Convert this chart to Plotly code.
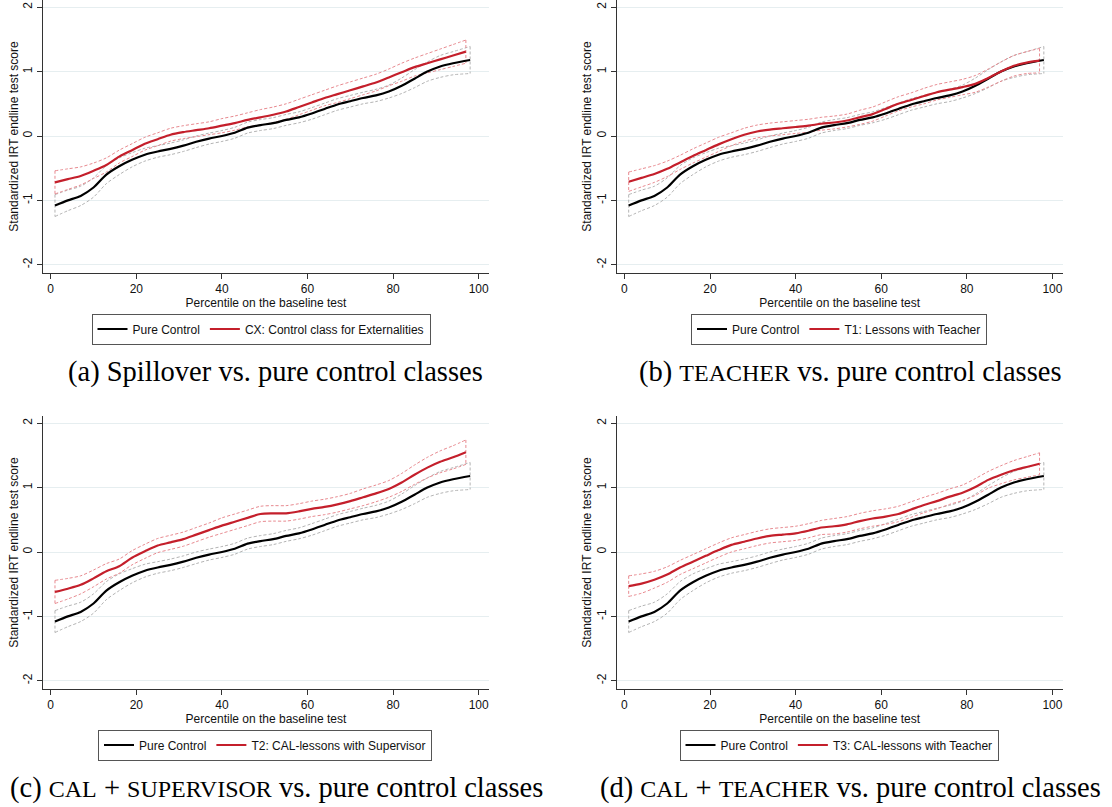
import plotly.graph_objects as go

# ---------------- data ----------------
x_ctrl = [1, 4, 7, 10, 13, 16, 19, 22, 25, 28, 31, 34, 37, 40, 43, 46, 49, 52, 55,
          58, 61, 64, 67, 70, 73, 76, 79, 82, 85, 88, 91, 94, 98]
x_trt = [1, 4, 7, 10, 13, 16, 19, 22, 25, 28, 31, 34, 37, 40, 43, 46, 49, 52, 55,
         58, 61, 64, 67, 70, 73, 76, 79, 82, 85, 88, 91, 94, 97]

ctrl_mean = [-1.08, -1.00, -0.93, -0.80, -0.60, -0.47, -0.37, -0.29, -0.24, -0.20, -0.15,
             -0.09, -0.04, 0.00, 0.05, 0.13, 0.17, 0.20, 0.25, 0.29, 0.35, 0.42, 0.49,
             0.54, 0.59, 0.63, 0.69, 0.78, 0.89, 1.00, 1.08, 1.13, 1.18]
ctrl_half = [0.17, 0.16, 0.15, 0.15, 0.14, 0.13, 0.11, 0.10, 0.09, 0.09, 0.09, 0.09, 0.085,
             0.085, 0.085, 0.085, 0.085, 0.085, 0.085, 0.085, 0.09, 0.09, 0.09, 0.09, 0.09,
             0.095, 0.10, 0.12, 0.14, 0.15, 0.17, 0.18, 0.21]

cx_mean = [-0.72, -0.67, -0.62, -0.54, -0.45, -0.32, -0.22, -0.12, -0.05, 0.02, 0.06, 0.09,
           0.12, 0.16, 0.20, 0.25, 0.29, 0.33, 0.38, 0.45, 0.52, 0.59, 0.65, 0.71, 0.77,
           0.83, 0.91, 0.99, 1.07, 1.13, 1.19, 1.25, 1.31]
cx_half = [0.18, 0.16, 0.14, 0.12, 0.11, 0.10, 0.10, 0.10, 0.10, 0.10, 0.10, 0.10, 0.10,
           0.11, 0.11, 0.11, 0.12, 0.12, 0.12, 0.12, 0.12, 0.12, 0.13, 0.13, 0.13, 0.13,
           0.13, 0.14, 0.14, 0.15, 0.16, 0.17, 0.18]

t1_mean = [-0.71, -0.65, -0.59, -0.51, -0.41, -0.31, -0.22, -0.13, -0.05, 0.02, 0.07, 0.10,
           0.12, 0.14, 0.16, 0.19, 0.21, 0.24, 0.29, 0.34, 0.42, 0.50, 0.56, 0.62, 0.68,
           0.72, 0.76, 0.81, 0.90, 1.00, 1.09, 1.14, 1.17]
t1_half = [0.15, 0.14, 0.13, 0.12, 0.11, 0.11, 0.11, 0.11, 0.10, 0.10, 0.10, 0.10, 0.10,
           0.10, 0.10, 0.10, 0.10, 0.10, 0.11, 0.11, 0.11, 0.11, 0.11, 0.12, 0.12, 0.12,
           0.12, 0.13, 0.14, 0.15, 0.16, 0.17, 0.19]

t2_mean = [-0.62, -0.57, -0.51, -0.41, -0.30, -0.22, -0.09, 0.01, 0.10, 0.15, 0.20, 0.27,
           0.34, 0.41, 0.47, 0.53, 0.59, 0.60, 0.60, 0.63, 0.67, 0.70, 0.74, 0.79, 0.85,
           0.91, 0.98, 1.08, 1.20, 1.31, 1.40, 1.47, 1.55]
t2_half = [0.18, 0.16, 0.14, 0.13, 0.12, 0.11, 0.11, 0.11, 0.11, 0.11, 0.11, 0.11, 0.11,
           0.12, 0.12, 0.12, 0.12, 0.12, 0.12, 0.12, 0.12, 0.12, 0.12, 0.12, 0.13, 0.13,
           0.13, 0.14, 0.15, 0.16, 0.17, 0.18, 0.19]

t3_mean = [-0.53, -0.49, -0.43, -0.35, -0.24, -0.15, -0.06, 0.03, 0.11, 0.16, 0.21, 0.25,
           0.27, 0.29, 0.33, 0.38, 0.40, 0.43, 0.48, 0.52, 0.55, 0.59, 0.66, 0.73, 0.79,
           0.86, 0.92, 1.01, 1.12, 1.20, 1.27, 1.32, 1.37]
t3_half = [0.16, 0.15, 0.13, 0.12, 0.11, 0.11, 0.11, 0.11, 0.11, 0.11, 0.11, 0.11, 0.11,
           0.11, 0.11, 0.11, 0.12, 0.12, 0.12, 0.12, 0.12, 0.12, 0.12, 0.12, 0.12, 0.12,
           0.12, 0.13, 0.13, 0.14, 0.15, 0.16, 0.17]

ctrl_name = "Pure Control"
trt_names = ["CX: Control class for Externalities", "T1: Lessons with Teacher",
             "T2: CAL-lessons with Supervisor", "T3: CAL-lessons with Teacher"]
x_ticks = [0, 20, 40, 60, 80, 100]
y_ticks = [-2, -1, 0, 1, 2]
y_ticklabels = ["-2", "-1", "0", "1", "2"]
x_title = "Percentile on the baseline test"
y_title = "Standardized IRT endline test score"

SC = "<span style='font-size:24px'>{}</span>"
captions = [
    "(a) Spillover vs. pure control classes",
    "(b) " + SC.format("TEACHER") + " vs. pure control classes",
    "(c) " + SC.format("CAL") + " + " + SC.format("SUPERVISOR") + " vs. pure control classes",
    "(d) " + SC.format("CAL") + " + " + SC.format("TEACHER") + " vs. pure control classes",
]
trt_means = [cx_mean, t1_mean, t2_mean, t3_mean]
trt_halfs = [cx_half, t1_half, t2_half, t3_half]

# ---------------- styling / layout ----------------
W, H = 1112, 807
RED = "#c41f2b"
RED_CI = "#e88a90"
GRAY_CI = "#b4b4b4"
GRID = "#e6eef0"
SANS = "Liberation Sans"

# panel pixel boxes: (left, right, top, bottom)
boxes = [(43, 489, 0, 273), (616.7, 1062.7, 0, 273),
         (43, 489, 416, 689), (616.7, 1062.7, 416, 689)]
legend_pos = [(261, 329), (839, 329), (265, 745), (839, 745)]
caption_pos = [(275, 372), (850, 372), (276, 788), (850, 788)]

fig = go.Figure()


def band_trace(xs, mean, half, color, xa, ya):
    up = [m + h for m, h in zip(mean, half)]
    lo = [m - h for m, h in zip(mean, half)]
    bx = list(xs) + [None] + list(xs) + [None, xs[0], xs[0], None, xs[-1], xs[-1]]
    by = up + [None] + lo + [None, up[0], lo[0], None, up[-1], lo[-1]]
    return go.Scatter(x=bx, y=by, mode="lines", xaxis=xa, yaxis=ya, showlegend=False,
                      hoverinfo="skip", connectgaps=False,
                      line=dict(color=color, width=1, dash="3px,2px", shape="spline",
                                smoothing=0.8))


for i in range(4):
    xa = "x" if i == 0 else f"x{i+1}"
    ya = "y" if i == 0 else f"y{i+1}"
    lg = "legend" if i == 0 else f"legend{i+1}"
    fig.add_trace(band_trace(x_ctrl, ctrl_mean, ctrl_half, GRAY_CI, xa, ya))
    fig.add_trace(band_trace(x_trt, trt_means[i], trt_halfs[i], RED_CI, xa, ya))
    fig.add_trace(go.Scatter(x=x_ctrl, y=ctrl_mean, mode="lines", name=ctrl_name,
                             xaxis=xa, yaxis=ya, legend=lg,
                             line=dict(color="black", width=2.2, shape="spline", smoothing=0.8)))
    fig.add_trace(go.Scatter(x=x_trt, y=trt_means[i], mode="lines", name=trt_names[i],
                             xaxis=xa, yaxis=ya, legend=lg,
                             line=dict(color=RED, width=2.2, shape="spline", smoothing=0.8)))

layout = dict(width=W, height=H, margin=dict(l=0, r=0, t=0, b=0),
              paper_bgcolor="white", plot_bgcolor="white",
              font=dict(family=SANS, size=12, color="#111"))

annotations = []
for i, (l, r, t, b) in enumerate(boxes):
    sx = "" if i == 0 else str(i + 1)
    # pixel scale: x=0 at l+7.7, 4.28 px/unit ; y=0 at t+136, 64.4 px/unit
    x0 = -7.7 / 4.28
    x1 = x0 + (r - l) / 4.28
    y1 = 136 / 64.4
    y0 = y1 - (b - t) / 64.4
    layout["xaxis" + sx] = dict(
        domain=[l / W, r / W], range=[x0, x1], anchor="y" + sx,
        tickvals=x_ticks, ticks="outside", ticklen=5, tickcolor="#333",
        showline=True, linecolor="#333", linewidth=1, showgrid=False, zeroline=False,
        tickfont=dict(size=12, color="#111"),
        title=dict(text=x_title, standoff=1, font=dict(size=12, color="#111")),
        fixedrange=True)
    layout["yaxis" + sx] = dict(
        domain=[1 - b / H, 1 - t / H], range=[y0, y1], anchor="x" + sx,
        tickvals=y_ticks, ticktext=y_ticklabels, ticks="outside", ticklen=5,
        tickcolor="#333", tickangle=-90,
        showline=True, linecolor="#333", linewidth=1, showgrid=True, gridcolor=GRID,
        gridwidth=1, zeroline=False, tickfont=dict(size=12, color="#111"),
        title=dict(text=y_title, standoff=0, font=dict(size=12, color="#111")),
        fixedrange=True)
    lx, ly = legend_pos[i]
    layout["legend" if i == 0 else f"legend{i+1}"] = dict(
        x=lx / W, y=1 - ly / H, xanchor="center", yanchor="middle", xref="paper",
        yref="paper", orientation="h", bordercolor="#555", borderwidth=1,
        bgcolor="white", font=dict(size=12, family=SANS, color="#111"),
        itemwidth=30, tracegroupgap=0)
    cx, cy = caption_pos[i]
    annotations.append(dict(text=captions[i], x=cx / W, y=1 - cy / H, xref="paper",
                            yref="paper", xanchor="center", yanchor="middle",
                            showarrow=False,
                            font=dict(family="Liberation Serif", size=28.5, color="black")))

layout["annotations"] = annotations
fig.update_layout(**layout)
fig.write_html("out.html", config={"displayModeBar": False},
               post_script="document.body.style.margin='0';document.body.style.overflow='hidden';")
